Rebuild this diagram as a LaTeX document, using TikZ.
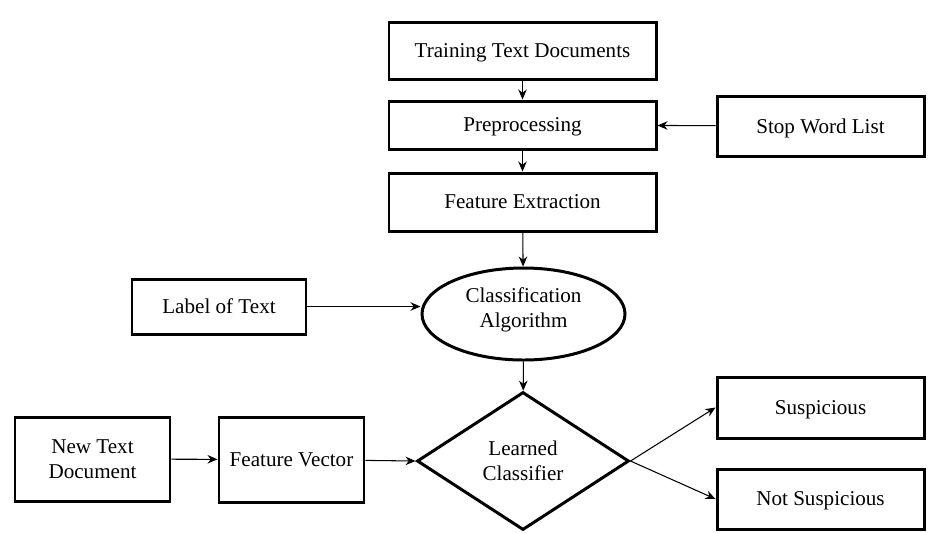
\documentclass[tikz,border=0pt]{standalone}
\usepackage{fontspec}
\setmainfont{Liberation Serif}
\usetikzlibrary{arrows.meta}
\usetikzlibrary{shapes.geometric}

\begin{document}
\begin{tikzpicture}[
        font=\fontsize{12}{14.4}\selectfont,
        stepbox/.style={draw,line width=1.7pt,rectangle,inner sep=2pt,text depth=0pt,align=center},
        algobox/.style={draw,line width=1.7pt,ellipse,inner sep=0pt,text depth=7pt,align=center},
        decisionbox/.style={draw,line width=1.7pt,diamond,inner sep=0pt,align=center},
        flow/.style={-{Stealth[length=0.2cm,width=0.17cm]},line width=0.6pt}
    ]%
        \useasboundingbox (0,0) rectangle (18.62,-10.64);

        % training path
        \node[stepbox,minimum width=5.34cm,minimum height=1.14cm] (train) at (10.45,-1.01) {Training Text Documents};
        \node[stepbox,minimum width=5.34cm,minimum height=0.96cm] (prep) at (10.45,-2.50) {Preprocessing};
        \node[stepbox,minimum width=4.14cm,minimum height=1.20cm] (stop) at (16.41,-2.52) {Stop Word List};
        \node[stepbox,minimum width=5.34cm,minimum height=1.16cm] (feat) at (10.45,-4.04) {Feature Extraction};
        \node[algobox,minimum width=4.06cm,minimum height=1.84cm] (algo) at (10.47,-6.28) {Classification\\Algorithm};
        \node[stepbox,minimum width=3.48cm,minimum height=1.10cm] (label) at (4.38,-6.13) {Label of Text};

        % prediction path
        \node[decisionbox,minimum width=4.24cm,minimum height=2.76cm] (learned) at (10.46,-9.22) {Learned\\Classifier};
        \node[stepbox,minimum width=3.10cm,minimum height=1.68cm] (newdoc) at (1.85,-9.18) {New Text\\Document};
        \node[stepbox,minimum width=2.90cm,minimum height=1.70cm] (fvec) at (5.83,-9.19) {Feature Vector};
        \node[stepbox,minimum width=4.14cm,minimum height=1.22cm] (susp) at (16.41,-8.15) {Suspicious};
        \node[stepbox,minimum width=4.14cm,minimum height=1.20cm] (notsusp) at (16.41,-9.98) {Not Suspicious};

        \begin{scope}[flow]
            \draw (train) -- (prep);
            \draw (stop) -- (prep);
            \draw (prep) -- (feat);
            \draw (feat) -- (algo);
            \draw (label.east) -- (label.east -| algo.west);
            \draw (algo) -- (learned);
            \draw (newdoc) -- (fvec);
            \draw (fvec) -- (learned.west);
            \draw (learned.east) -- (susp.west);
            \draw (learned.east) -- (notsusp.west);
        \end{scope}
    \end{tikzpicture}
\end{document}
